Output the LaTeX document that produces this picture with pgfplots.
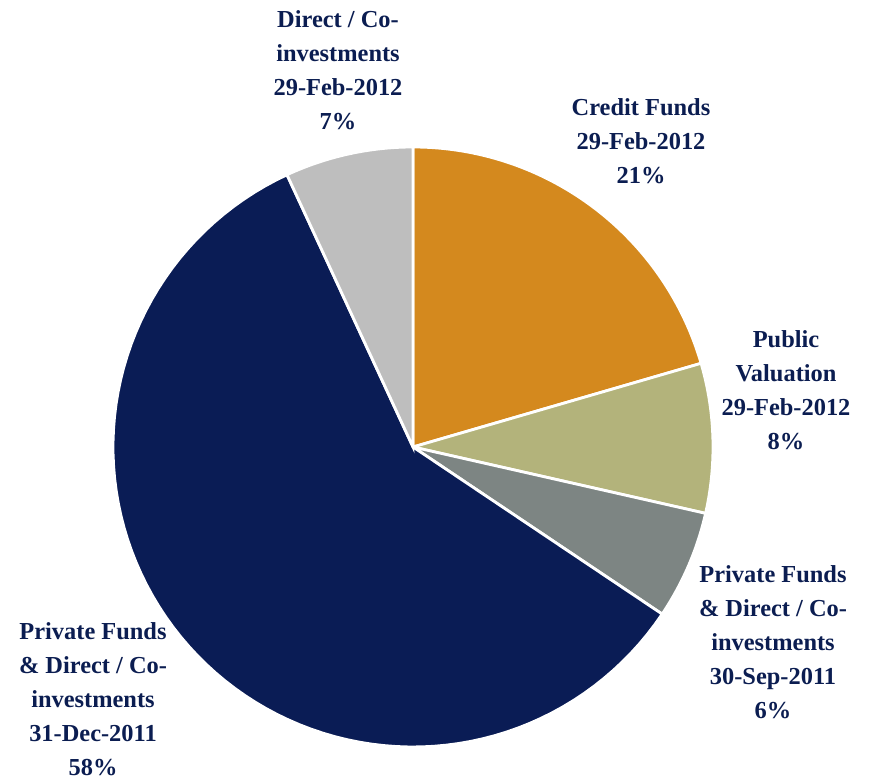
\documentclass[border=0pt]{standalone}
\usepackage{pgfplots}
\pgfplotsset{compat=1.18}
\usepackage{fontspec}
\setmainfont{Liberation Serif}
\definecolor{cOrange}{HTML}{D4891E}
\definecolor{cKhaki}{HTML}{B3B37B}
\definecolor{cGray}{HTML}{7D8583}
\definecolor{cNavy}{HTML}{0A1C55}
\definecolor{cLight}{HTML}{BEBEBE}
\definecolor{cText}{HTML}{0B1D51}
% slice values in percent, clockwise from 12 o'clock
\def\vA{20.5}  % Credit Funds
\def\vB{8.05}  % Public Valuation
\def\vC{5.85}  % Private Funds 30-Sep-2011
\def\vD{58.7}  % Private Funds 31-Dec-2011
\def\vE{6.9}   % Direct / Co-investments
\pgfmathsetmacro\aA{90}
\pgfmathsetmacro\aB{\aA-3.6*\vA}
\pgfmathsetmacro\aC{\aB-3.6*\vB}
\pgfmathsetmacro\aD{\aC-3.6*\vC}
\pgfmathsetmacro\aE{\aD-3.6*\vD}
\pgfmathsetmacro\aF{\aE-3.6*\vE}
\begin{document}
\begin{tikzpicture}
\begin{axis}[
  width=869bp, height=780bp, scale only axis,
  xmin=0, xmax=869, ymin=0, ymax=780,
  hide axis, clip=false,
  every axis plot/.append style={draw=white, line width=2.8bp, samples=90, variable=\t},
]
\addplot[fill=cOrange, domain=\aB:\aA] ({413+300*cos(\t)},{333+300*sin(\t)}) -- (axis cs:413,333) -- cycle;
\addplot[fill=cKhaki, domain=\aC:\aB] ({413+300*cos(\t)},{333+300*sin(\t)}) -- (axis cs:413,333) -- cycle;
\addplot[fill=cGray, domain=\aD:\aC] ({413+300*cos(\t)},{333+300*sin(\t)}) -- (axis cs:413,333) -- cycle;
\addplot[fill=cNavy, domain=\aE:\aD] ({413+300*cos(\t)},{333+300*sin(\t)}) -- (axis cs:413,333) -- cycle;
\addplot[fill=cLight, domain=\aF:\aE] ({413+300*cos(\t)},{333+300*sin(\t)}) -- (axis cs:413,333) -- cycle;
\tikzset{lbl/.style={align=center, text=cText, font=\fontsize{24.5}{34}\selectfont\bfseries, inner sep=0pt}}
\node[lbl] at (axis cs:338,710) {Direct / Co-\\investments\\29-Feb-2012\\7\%};
\node[lbl] at (axis cs:641,639) {Credit Funds\\29-Feb-2012\\21\%};
\node[lbl] at (axis cs:786,390) {Public\\Valuation\\29-Feb-2012\\8\%};
\node[lbl] at (axis cs:773,138) {Private Funds\\\& Direct / Co-\\investments\\30-Sep-2011\\6\%};
\node[lbl] at (axis cs:93,81) {Private Funds\\\& Direct / Co-\\investments\\31-Dec-2011\\58\%};
\end{axis}
\pgfresetboundingbox
\path (current axis.south west) rectangle (current axis.north east);
\end{tikzpicture}
\end{document}
